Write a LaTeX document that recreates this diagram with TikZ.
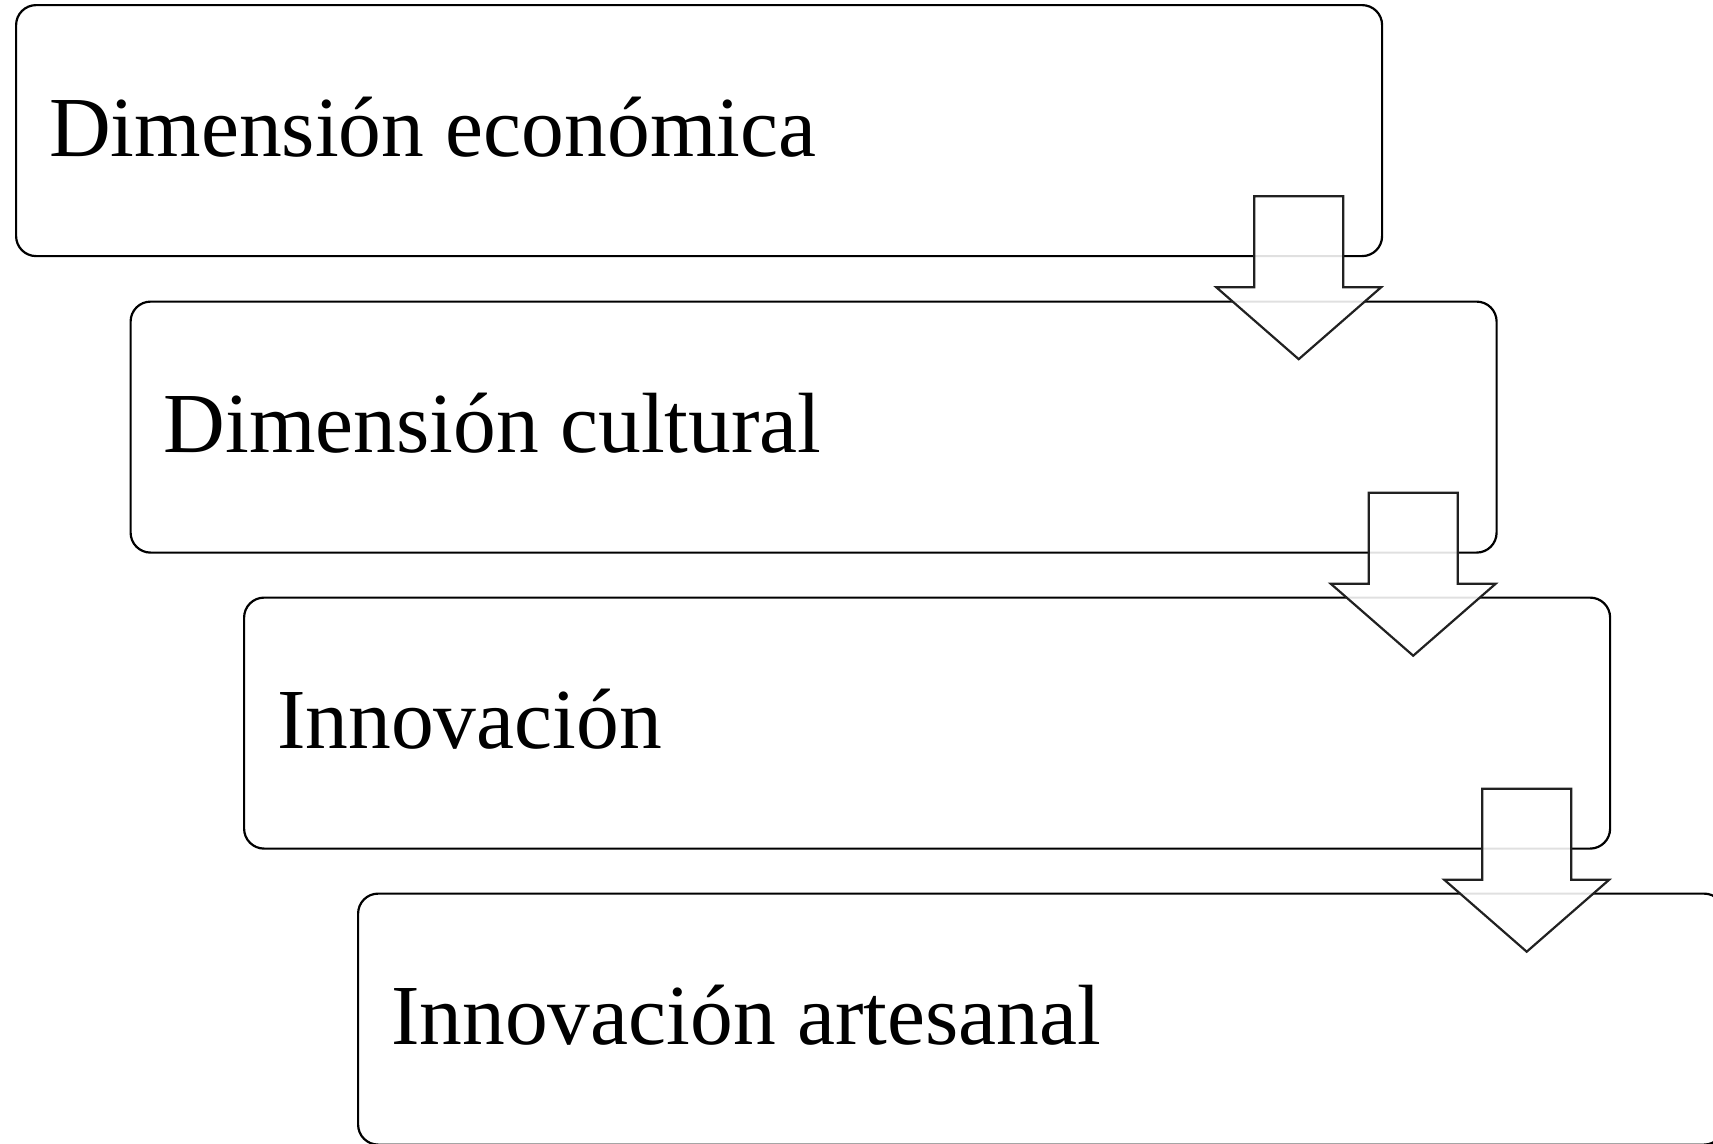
\documentclass[tikz,border=0pt]{standalone}
\usepackage{fontspec}
\setmainfont{Liberation Serif}
\usetikzlibrary{calc}
\tikzset{
  stage/.style={draw=black, line width=2.2pt, rounded corners=20pt,
    minimum width=1366pt, minimum height=251pt, anchor=north west, inner sep=0pt},
  stagetext/.style={anchor=base west, inner sep=0pt, font=\fontsize{85.5}{100}\selectfont},
  blockarrow/.style={draw=black!87, line width=2.2pt, fill=white, fill opacity=0.88, line join=miter}
}
\newcommand{\downblock}[1]{%
  \draw[blockarrow] (#1) -- ++(89,0) -- ++(0,91) -- ++(38,0)
    -- ($(#1)+(44.5,163)$) -- ($(#1)+(-38,91)$) -- ++(38,0) -- cycle;}
\begin{document}
\begin{tikzpicture}[x=1pt,y=-1pt]
\useasboundingbox (0,0) rectangle (1713,1143);
\clip (0,0) rectangle (1713,1143);
\node[stage] (b1) at (15,4) {};
\node[stage] (b2) at (129.5,300.5) {};
\node[stage] (b3) at (243,596.5) {};
\node[stage] (b4) at (357,892.5) {};
\node[stagetext] (t1) at ($(b1.north west)+(34,152)$) {Dimensión económica};
\node[stagetext] (t2) at ($(b2.north west)+(34,152)$) {Dimensión cultural};
\node[stagetext] (t3) at ($(b3.north west)+(34,152)$) {Innovación};
\node[stagetext] (t4) at ($(b4.north west)+(34,152)$) {Innovación artesanal};
\coordinate (a1) at ($(b1.south east)+(-129,-61)$);
\coordinate (a2) at ($(b2.south east)+(-129,-61)$);
\coordinate (a3) at ($(b3.south east)+(-129,-61)$);
\downblock{a1}
\downblock{a2}
\downblock{a3}
\end{tikzpicture}
\end{document}
